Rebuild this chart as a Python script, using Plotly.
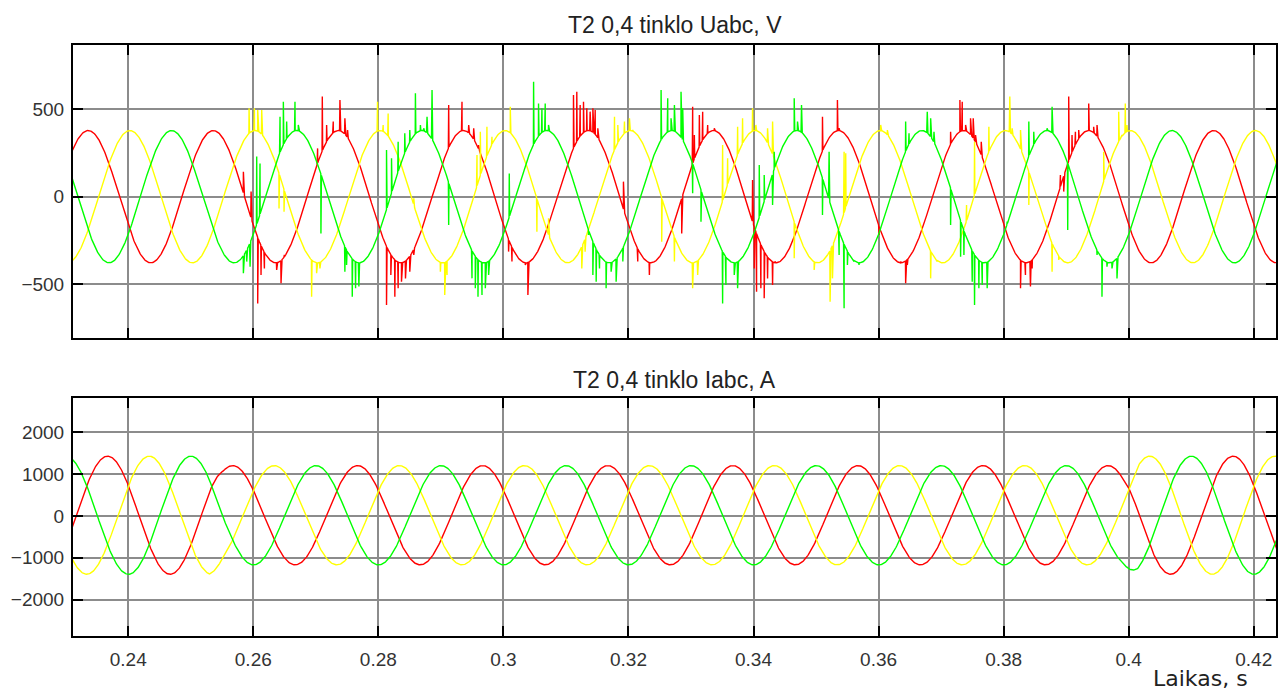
import numpy as np
import plotly.graph_objects as go

# ---------------- data ----------------
F_HZ = 50.0
T_START, T_END, DT = 0.2310, 0.4240, 0.0001

# voltage (top): amplitude and phase-A peak time
U_AMP = 378.0
U_PEAK_A = 0.2336
# current (bottom): phase-A peak time, DC offset and envelope
I_PEAK_A = 0.2367
I_OFFSET = 15.0
I_ENV_T = [0.2310, 0.2530, 0.2552, 0.3990, 0.4015, 0.4240]
I_ENV_A = [1410.0, 1410.0, 1185.0, 1185.0, 1410.0, 1410.0]

# voltage spikes (time s, value V)
UA_SPK_T = [0.25842, 0.25965, 0.26071, 0.26124, 0.26178, 0.26374, 0.26444, 0.26497, 0.27029, 0.27104,
            0.27173, 0.27279, 0.27386, 0.27465, 0.27508, 0.28131, 0.28200, 0.28264, 0.28317, 0.28370,
            0.28434, 0.28503, 0.28567, 0.29125, 0.29338, 0.29445, 0.29525, 0.29604, 0.30083, 0.30137,
            0.30350, 0.30392, 0.31121, 0.31174, 0.31228, 0.31281, 0.31334, 0.31387, 0.31431, 0.31468,
            0.31510, 0.31920, 0.32149, 0.32335, 0.32415, 0.32852, 0.33027, 0.33054, 0.33134, 0.33187,
            0.33267, 0.33373, 0.33985, 0.34012, 0.34049, 0.34118, 0.34171, 0.34225, 0.34305, 0.34342,
            0.35103, 0.35342, 0.35369, 0.35475, 0.36008, 0.36354, 0.36433, 0.36460, 0.37152, 0.37301,
            0.37338, 0.37392, 0.37471, 0.37514, 0.37551, 0.37604, 0.37642, 0.38270, 0.38349, 0.38429,
            0.38456, 0.38908, 0.38961, 0.39041, 0.39094, 0.39148, 0.39201, 0.39361, 0.39440, 0.39494]
UA_SPK_V = [143, 29, -610, -448, -410, -419, -495, -333, 276, 572,
            410, 429, 552, 448, 381, -619, -448, -572, -524, -486,
            -467, -429, -333, 524, 543, 410, 391, 295, -314, -371,
            -390, -562, 581, 600, 524, 543, 505, 486, 505, 495,
            391, 86, -371, -448, -371, -210, 514, 352, 467, 486,
            410, 391, 95, -410, -543, -524, -581, -467, -505, -371,
            457, 552, 391, 352, -219, -371, -495, -390, 371, 552,
            543, 410, 448, 448, 352, 276, 314, -524, -448, -514,
            -410, 124, 29, 572, 352, 371, 381, 533, 400, 410]

UB_SPK_T = [0.25933, 0.26018, 0.26071, 0.26135, 0.26412, 0.26492, 0.26933, 0.27013, 0.27066, 0.27987,
            0.28077, 0.28157, 0.28567, 0.28992, 0.29062, 0.29099, 0.29578, 0.29631, 0.29737, 0.29817,
            0.30110, 0.30536, 0.30722, 0.31254, 0.31307, 0.31777, 0.31830, 0.31936, 0.32016, 0.32069,
            0.32532, 0.32735, 0.33027, 0.33107, 0.33506, 0.33586, 0.33746, 0.33825, 0.33985, 0.34038,
            0.34225, 0.34305, 0.34651, 0.34970, 0.35225, 0.35263, 0.35449, 0.35475, 0.36034, 0.36141,
            0.36833, 0.36859, 0.36939, 0.37407, 0.37535, 0.37764, 0.38099, 0.38137, 0.38270, 0.38403,
            0.38775, 0.38882, 0.39600, 0.39840, 0.39893, 0.39946, 0.39973]
UB_SPK_V = [505, 505, 495, 495, -67, -86, -572, -438, -410, 543,
            410, 476, -10, -429, -562, -448, 238, 371, 400, 343,
            514, -200, -124, -410, -314, 457, 410, 429, 448, 381,
            -257, -371, -524, -448, 295, 219, 400, 448, 505, 410,
            391, 429, -352, -419, -600, -467, 257, 248, 410, 381,
            -467, -333, -371, -48, 314, 400, 572, 391, 381, -48,
            -429, -362, 257, 486, 352, 533, 410]

UC_SPK_T = [0.25842, 0.25895, 0.25949, 0.26055, 0.26108, 0.26428, 0.26481, 0.26534, 0.26667, 0.26720,
            0.27082, 0.27465, 0.27492, 0.27583, 0.27636, 0.27689, 0.28131, 0.28211, 0.28317, 0.28423,
            0.28503, 0.28593, 0.28673, 0.28726, 0.28779, 0.28859, 0.29125, 0.29498, 0.29551, 0.29594,
            0.29658, 0.29711, 0.29764, 0.30094, 0.30483, 0.30562, 0.30616, 0.30669, 0.30722, 0.31361,
            0.31431, 0.31484, 0.31537, 0.31643, 0.31723, 0.31803, 0.31910, 0.32522, 0.32628, 0.32681,
            0.32735, 0.32841, 0.32868, 0.33027, 0.33160, 0.33506, 0.33559, 0.33692, 0.33746, 0.34092,
            0.34171, 0.34305, 0.34331, 0.34651, 0.34704, 0.34768, 0.35103, 0.35209, 0.35369, 0.35449,
            0.35502, 0.35609, 0.35688, 0.36433, 0.36487, 0.36779, 0.36833, 0.36886, 0.37152, 0.37312,
            0.37365, 0.37498, 0.37535, 0.37604, 0.37658, 0.37737, 0.38057, 0.38403, 0.38482, 0.38695,
            0.38775, 0.39025, 0.39494, 0.39573, 0.39653, 0.39733, 0.39813]
UC_SPK_V = [-438, -371, -400, 229, 190, 457, 543, 429, 543, 410,
            -210, -429, -390, -572, -524, -514, 267, 219, 314, 362,
            381, 591, 410, 391, 457, 610, -162, -467, -524, -572,
            -562, -524, -448, 133, 657, 533, 505, 533, 410, -219,
            -448, -486, -410, -524, -429, -486, -371, 610, 562, 448,
            524, 600, 505, 19, -143, -610, -505, -448, -524, 181,
            124, -48, 257, 562, 429, 524, -105, 257, -333, -638,
            -390, -371, -390, 429, 362, 486, 448, 371, -162, -343,
            -333, -486, -619, -524, -505, -524, -143, 429, 371, 391,
            514, -190, -333, -572, -400, -410, -467]

X_TICKS = [0.24, 0.26, 0.28, 0.30, 0.32, 0.34, 0.36, 0.38, 0.40, 0.42]
X_TICK_TEXT = ["0.24", "0.26", "0.28", "0.3", "0.32", "0.34", "0.36", "0.38", "0.4", "0.42"]
U_TICKS = [-500, 0, 500]
I_TICKS = [-2000, -1000, 0, 1000, 2000]

COL_A, COL_B, COL_C = "#ff0000", "#ffff00", "#00ff00"

# ---------------- build the series ----------------
t = np.arange(T_START, T_END, DT)
w = 2 * np.pi * F_HZ
th_u = w * (t - U_PEAK_A)
th_i = w * (t - I_PEAK_A)
shift = 2 * np.pi / 3

ua = U_AMP * np.cos(th_u)
ub = U_AMP * np.cos(th_u - shift)
uc = U_AMP * np.cos(th_u + shift)

env = np.interp(t, I_ENV_T, I_ENV_A)
ia = I_OFFSET + env * np.cos(th_i)
ib = I_OFFSET + env * np.cos(th_i - shift)
ic = I_OFFSET + env * np.cos(th_i + shift)


def with_spikes(tb, yb, st, sv):
    tt = np.concatenate([tb, np.asarray(st, float)])
    yy = np.concatenate([yb, np.asarray(sv, float)])
    o = np.argsort(tt, kind="stable")
    return tt[o], yy[o]


ta, ua_s = with_spikes(t, ua, UA_SPK_T, UA_SPK_V)
tb_, ub_s = with_spikes(t, ub, UB_SPK_T, UB_SPK_V)
tc, uc_s = with_spikes(t, uc, UC_SPK_T, UC_SPK_V)

fig = go.Figure()
LW = 1.4
fig.add_trace(go.Scatter(x=ta, y=ua_s, mode="lines", line=dict(color=COL_A, width=LW), xaxis="x", yaxis="y"))
fig.add_trace(go.Scatter(x=tb_, y=ub_s, mode="lines", line=dict(color=COL_B, width=LW), xaxis="x", yaxis="y"))
fig.add_trace(go.Scatter(x=tc, y=uc_s, mode="lines", line=dict(color=COL_C, width=LW), xaxis="x", yaxis="y"))
fig.add_trace(go.Scatter(x=t, y=ia, mode="lines", line=dict(color=COL_A, width=LW), xaxis="x2", yaxis="y2"))
fig.add_trace(go.Scatter(x=t, y=ib, mode="lines", line=dict(color=COL_B, width=LW), xaxis="x2", yaxis="y2"))
fig.add_trace(go.Scatter(x=t, y=ic, mode="lines", line=dict(color=COL_C, width=LW), xaxis="x2", yaxis="y2"))

W, H = 1278, 688
ML, MR, MT, MB = 73, 0, 45, 52
PH = H - MT - MB

def py(ypix):
    return (H - MB - ypix) / PH

TICKFONT = dict(family="Liberation Sans, Arial, sans-serif", size=19, color="#333333")
GRID = "#8c8c8c"

common_x = dict(range=[0.23117, 0.42356], tickvals=X_TICKS, ticktext=X_TICK_TEXT,
                showgrid=True, gridcolor=GRID, gridwidth=1.5, zeroline=False,
                showline=True, linecolor="black", linewidth=2, mirror="ticks",
                ticks="inside", ticklen=10, tickwidth=2, tickcolor="black",
                tickfont=TICKFONT)
common_y = dict(showgrid=True, gridcolor=GRID, gridwidth=1.5, zeroline=False,
                showline=True, linecolor="black", linewidth=2, mirror="ticks",
                ticks="inside", ticklen=10, tickwidth=2, tickcolor="black",
                tickfont=TICKFONT, ticklabelstandoff=3)

fig.update_layout(
    width=W, height=H,
    margin=dict(l=ML, r=MR, t=MT, b=MB),
    paper_bgcolor="white", plot_bgcolor="white",
    showlegend=False,
    xaxis=dict(common_x, domain=[0, 1], anchor="y", showticklabels=False),
    yaxis=dict(common_y, domain=[py(337.5), 1], anchor="x", range=[-805, 867], tickvals=U_TICKS),
    xaxis2=dict(common_x, domain=[0, 1], anchor="y2", showticklabels=True, ticklabelstandoff=5),
    yaxis2=dict(common_y, domain=[0, py(398)], anchor="x2", range=[-2870, 2815], tickvals=I_TICKS),
    annotations=[
        dict(text="T2 0,4 tinklo Uabc, V", xref="paper", yref="paper", x=0.5, y=py(25),
             xanchor="center", yanchor="middle", showarrow=False,
             font=dict(family="Liberation Sans, Arial, sans-serif", size=23, color="#222222")),
        dict(text="T2 0,4 tinklo Iabc, A", xref="paper", yref="paper", x=0.5, y=py(380),
             xanchor="center", yanchor="middle", showarrow=False,
             font=dict(family="Liberation Sans, Arial, sans-serif", size=23, color="#222222")),
        dict(text="Laikas, s", xref="paper", yref="paper", x=(1202 - ML) / (W - ML - MR), y=py(678),
             xanchor="center", yanchor="middle", showarrow=False,
             font=dict(family="DejaVu Sans, sans-serif", size=22, color="#222222")),
    ],
)

fig.write_html("out.html")
